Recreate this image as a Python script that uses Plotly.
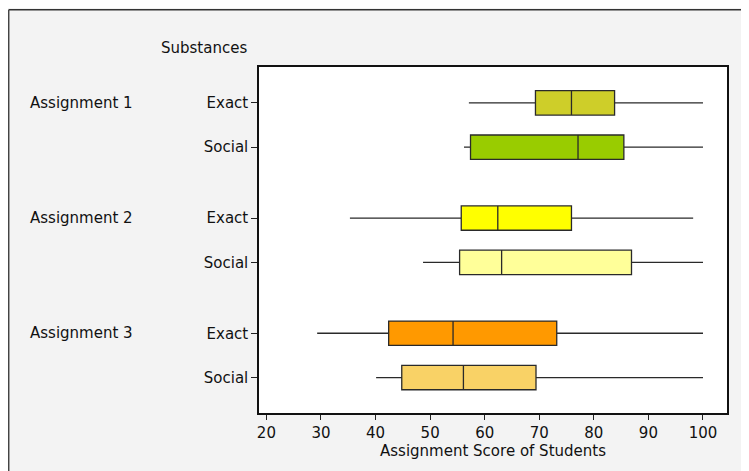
import plotly.graph_objects as go

assignments = ["Assignment 1", "Assignment 2", "Assignment 3"]
substances = ["Exact", "Social", "Exact", "Social", "Exact", "Social"]
row_pos = [0, 1, 2.6, 3.6, 5.2, 6.2]
lower = [57.1, 56.2, 35.3, 48.7, 29.3, 40.1]
q1 = [69.3, 57.4, 55.7, 55.4, 42.4, 44.8]
median = [75.9, 77.1, 62.4, 63.1, 54.2, 56.1]
q3 = [83.8, 85.5, 75.9, 86.9, 73.2, 69.4]
upper = [100, 100, 98.2, 100, 100, 100]
colors = ["#CECE29", "#99CC00", "#FFFF00", "#FFFF99", "#FF9900", "#F9D266"]
x_ticks = [20, 30, 40, 50, 60, 70, 80, 90, 100]

FONT = "DejaVu Sans"
FS = 15
fig = go.Figure()
for i in range(len(substances)):
    fig.add_trace(go.Box(
        y=[row_pos[i]], q1=[q1[i]], median=[median[i]], q3=[q3[i]],
        lowerfence=[lower[i]], upperfence=[upper[i]],
        orientation="h", width=0.55, whiskerwidth=0,
        fillcolor=colors[i], line=dict(color="#2a2a2a", width=1.3),
        boxpoints=False, showlegend=False, hoverinfo="skip",
    ))

# page body margin of 8px shifts the figure; work in figure pixels
OFF = 8
W, H = 741, 463
L, R, T, B = 251, 22, 59, 58
pw, ph = W - L - R, H - T - B

def px(x):
    return (x - OFF - L) / pw

def py(y):
    return (H - B - (y - OFF)) / ph

annotations = [dict(text="Substances", x=px(249), y=py(48), xref="paper", yref="paper",
                    xanchor="right", yanchor="middle", showarrow=False,
                    font=dict(family=FONT, size=FS, color="#111"))]
for k, a in enumerate(assignments):
    annotations.append(dict(text=a, x=px(28), y=row_pos[2 * k], xref="paper", yref="y",
                            xanchor="left", yanchor="middle", showarrow=False,
                            font=dict(family=FONT, size=FS, color="#111")))

shapes = [
    dict(type="line", xref="paper", yref="paper", x0=px(8.7), x1=px(760), y0=py(9.7), y1=py(9.7),
         line=dict(color="#333", width=1.5), layer="above"),
    dict(type="line", xref="paper", yref="paper", x0=px(8.7), x1=px(8.7), y0=py(9.7), y1=py(480),
         line=dict(color="#444", width=1.5), layer="above"),
]

fig.update_layout(
    width=W, height=H,
    margin=dict(l=L, r=R, t=T, b=B),
    paper_bgcolor="#F3F3F3", plot_bgcolor="white",
    font=dict(family=FONT, size=FS, color="#111"),
    annotations=annotations, shapes=shapes,
    xaxis=dict(range=[18.64, 104.4], tickvals=x_ticks, ticks="outside", ticklen=5,
               tickcolor="#222", showline=True, mirror=True, linecolor="#111", linewidth=1.5,
               showgrid=False, zeroline=False,
               title=dict(text="Assignment Score of Students", standoff=4,
                          font=dict(family=FONT, size=FS)),
               tickfont=dict(family=FONT, size=FS)),
    yaxis=dict(range=[6.2 + 0.80, -0.81], tickvals=row_pos, ticktext=substances,
               ticks="outside", ticklen=6, tickcolor="#222", showline=True, mirror=True,
               linecolor="#111", linewidth=1.5, showgrid=False, zeroline=False,
               tickfont=dict(family=FONT, size=FS)),
)
fig.write_html("out.html")
